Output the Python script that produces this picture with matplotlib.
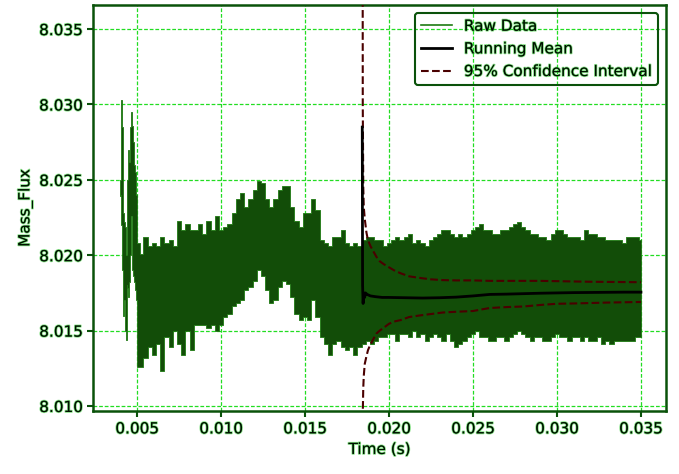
import matplotlib
matplotlib.use('Agg')
import matplotlib.pyplot as plt
import matplotlib.patheffects as pe
from matplotlib.lines import Line2D
from matplotlib.ticker import FormatStrFormatter
import numpy as np

# ---------------- data ----------------
early_time = [0.00400, 0.00405, 0.00410, 0.00415, 0.00420, 0.00425, 0.00430,
              0.00435, 0.00440, 0.00445, 0.00450, 0.00455, 0.00460, 0.00465,
              0.00470, 0.00475, 0.00480, 0.00485, 0.00490, 0.00495, 0.00500,
              0.00505]
early_high = [8.0250, 8.0262, 8.0303, 8.0285, 8.0228, 8.0222, 8.0219,
              8.0200, 8.0224, 8.0250, 8.0270, 8.0262, 8.0285, 8.0295,
              8.0290, 8.0286, 8.0275, 8.0260, 8.0255, 8.0240, 8.0214,
              8.0208]
early_low = [8.0239, 8.0240, 8.0220, 8.0190, 8.0160, 8.0170, 8.0150,
             8.0144, 8.0180, 8.0178, 8.0172, 8.0182, 8.0200, 8.0226,
             8.0210, 8.0190, 8.0186, 8.0182, 8.0177, 8.0170, 8.0154,
             8.0126]

# regular part: samples every 0.00025 s starting at 0.00525 s
reg_start = 0.00525
reg_step = 0.00025
reg_high = [8.0201, 8.0212, 8.0206, 8.0208, 8.0206, 8.0212, 8.0208, 8.0210,
            8.0206, 8.0223, 8.0217, 8.0221, 8.0217, 8.0217, 8.0221, 8.0214,
            8.0223, 8.0217, 8.0226, 8.0217, 8.0219, 8.0221, 8.0228, 8.0237,
            8.0241, 8.0232, 8.0237, 8.0243, 8.0249, 8.0248, 8.0237, 8.0232,
            8.0237, 8.0243, 8.0246, 8.0246, 8.0232, 8.0223, 8.0219, 8.0228,
            8.0228, 8.0237, 8.0230, 8.0210, 8.0208, 8.0206, 8.0212, 8.0212,
            8.0217, 8.0208, 8.0206, 8.0208, 8.0206, 8.0210, 8.0212, 8.0212,
            8.0210, 8.0210, 8.0206, 8.0208, 8.0210, 8.0212, 8.0210, 8.0212,
            8.0214, 8.0208, 8.0210, 8.0208, 8.0206, 8.0210, 8.0212, 8.0214,
            8.0217, 8.0217, 8.0214, 8.0212, 8.0214, 8.0212, 8.0214, 8.0217,
            8.0219, 8.0221, 8.0217, 8.0217, 8.0214, 8.0214, 8.0217, 8.0217,
            8.0219, 8.0221, 8.0222, 8.0219, 8.0217, 8.0214, 8.0214, 8.0212,
            8.0212, 8.0210, 8.0214, 8.0217, 8.0217, 8.0214, 8.0212, 8.0212,
            8.0212, 8.0210, 8.0217, 8.0214, 8.0214, 8.0212, 8.0212, 8.0210,
            8.0210, 8.0210, 8.0210, 8.0208, 8.0212, 8.0212, 8.0212, 8.0210]
reg_low = [8.0126, 8.0132, 8.0139, 8.0134, 8.0141, 8.0123, 8.0146, 8.0139,
           8.0150, 8.0141, 8.0134, 8.0150, 8.0137, 8.0154, 8.0154, 8.0154,
           8.0152, 8.0154, 8.0150, 8.0154, 8.0159, 8.0161, 8.0166, 8.0168,
           8.0170, 8.0177, 8.0179, 8.0183, 8.0190, 8.0186, 8.0177, 8.0168,
           8.0170, 8.0179, 8.0183, 8.0181, 8.0172, 8.0161, 8.0157, 8.0159,
           8.0157, 8.0170, 8.0159, 8.0146, 8.0141, 8.0134, 8.0141, 8.0143,
           8.0139, 8.0137, 8.0139, 8.0134, 8.0139, 8.0141, 8.0143, 8.0141,
           8.0143, 8.0146, 8.0146, 8.0148, 8.0148, 8.0143, 8.0148, 8.0148,
           8.0146, 8.0150, 8.0146, 8.0148, 8.0143, 8.0146, 8.0148, 8.0146,
           8.0143, 8.0148, 8.0143, 8.0139, 8.0141, 8.0143, 8.0146, 8.0148,
           8.0150, 8.0146, 8.0146, 8.0143, 8.0143, 8.0146, 8.0146, 8.0143,
           8.0146, 8.0148, 8.0150, 8.0148, 8.0146, 8.0143, 8.0146, 8.0146,
           8.0143, 8.0143, 8.0146, 8.0148, 8.0146, 8.0146, 8.0143, 8.0146,
           8.0146, 8.0143, 8.0146, 8.0143, 8.0143, 8.0146, 8.0141, 8.0143,
           8.0141, 8.0143, 8.0143, 8.0143, 8.0143, 8.0143, 8.0146, 8.0146]

mean_time = [0.01841, 0.01843, 0.01846, 0.01850, 0.01855, 0.01860, 0.01870,
             0.01890, 0.01920, 0.01960, 0.0200, 0.0210, 0.0220, 0.0230,
             0.0240, 0.0250, 0.0260, 0.0270, 0.0280, 0.0290, 0.0300, 0.0310,
             0.0320, 0.0330, 0.0340, 0.0350]
mean_vals = [8.0285, 8.0180, 8.0168, 8.0175, 8.0172, 8.0175, 8.0174,
             8.0173, 8.01725, 8.0172, 8.0172, 8.01718, 8.01716, 8.01718,
             8.01722, 8.0173, 8.0174, 8.01742, 8.01745, 8.01748, 8.0175,
             8.01752, 8.01753, 8.01754, 8.01755, 8.01755]

ci_time = [0.01841, 0.01844, 0.01847, 0.01850, 0.01856, 0.01866, 0.01875,
           0.01890, 0.01905, 0.01925, 0.01945, 0.01970, 0.0200, 0.0203,
           0.0207, 0.0212, 0.0218, 0.0225, 0.0232, 0.0240, 0.0250, 0.0260,
           0.0270, 0.0280, 0.0290, 0.0300, 0.0310, 0.0320, 0.0330, 0.0340,
           0.0350]
ci_upper = [8.0800, 8.0300, 8.0245, 8.0232, 8.0224, 8.0215, 8.0210,
            8.0206, 8.0203, 8.0199, 8.0196, 8.0194, 8.0192, 8.0190,
            8.0188, 8.0186, 8.0185, 8.0184, 8.01835, 8.01833, 8.01833,
            8.0183, 8.0183, 8.0183, 8.0183, 8.01828, 8.01826, 8.01824,
            8.01823, 8.01822, 8.01821]
ci_lower = [7.9500, 8.0095, 8.0112, 8.0120, 8.0128, 8.0133, 8.0137,
            8.0141, 8.0144, 8.0148, 8.0150, 8.0152, 8.01545, 8.0156,
            8.0157, 8.0159, 8.0160, 8.0161, 8.0162, 8.01625, 8.0163,
            8.0165, 8.01656, 8.0166, 8.0167, 8.01678, 8.0168, 8.01683,
            8.01686, 8.01688, 8.0169]

x_ticks = [0.005, 0.010, 0.015, 0.020, 0.025, 0.030, 0.035]
y_ticks = [8.010, 8.015, 8.020, 8.025, 8.030, 8.035]

# ---------------- assemble raw series ----------------
reg_time = [round(reg_start + reg_step * i, 6) for i in range(len(reg_high))]
raw_time = np.array(early_time + reg_time)
raw_high = np.array(early_high + reg_high)
raw_low = np.array(early_low + reg_low)

# ---------------- style ----------------
DARK_GREEN = '#0a520a'
TEXT_COLOR = '#000f00'
GLOW = [pe.withStroke(linewidth=1.3, foreground=(0.2, 0.8, 0.2, 0.55))]
RAW_FILL = '#124d08'
RAW_EDGE = '#1e7a12'
CI_COLOR = '#4a0000'

fig, ax = plt.subplots(figsize=(6.79, 4.74), dpi=100)
fig.subplots_adjust(left=0.137, right=0.981, top=0.9895, bottom=0.133)

ax.fill_between(raw_time, raw_low, raw_high, step='mid', facecolor=RAW_FILL,
                edgecolor=RAW_EDGE, linewidth=0.6, zorder=2)
ci_line, = ax.plot(ci_time, ci_upper, color=CI_COLOR, ls='--', lw=1.5,
                   zorder=3, label='95% Confidence Interval')
ax.plot(ci_time, ci_lower, color=CI_COLOR, ls='--', lw=1.5, zorder=3)
mean_line, = ax.plot(mean_time, mean_vals, color='black', lw=2.0, zorder=4,
                     label='Running Mean')

ax.set_xlim(0.00238, 0.0365)
ax.set_ylim(8.00967, 8.0366)
ax.set_xticks(x_ticks)
ax.set_yticks(y_ticks)
ax.xaxis.set_major_formatter(FormatStrFormatter('%.3f'))
ax.yaxis.set_major_formatter(FormatStrFormatter('%.3f'))

ax.grid(True, color='#22dd22', ls=(0, (3, 1.5)), lw=0.9)

for s in ax.spines.values():
    s.set_color(DARK_GREEN)
    s.set_linewidth(1.8)
ax.tick_params(color=DARK_GREEN, labelcolor=TEXT_COLOR, length=4, width=1.5,
               labelsize=11)
for t in ax.xaxis.get_major_ticks() + ax.yaxis.get_major_ticks():
    t.label1.set_path_effects(GLOW)

xl = ax.set_xlabel('Time (s)', fontsize=11, color=TEXT_COLOR)
yl = ax.set_ylabel('Mass_Flux', fontsize=11, color=TEXT_COLOR)
xl.set_path_effects(GLOW)
yl.set_path_effects(GLOW)

raw_handle = Line2D([], [], color=RAW_EDGE, lw=1.2, label='Raw Data')
leg = ax.legend(handles=[raw_handle, mean_line, ci_line], loc='upper right',
                fontsize=11, facecolor='none', edgecolor=DARK_GREEN,
                framealpha=1, fancybox=True)
leg.get_frame().set_linewidth(1.5)
for txt in leg.get_texts():
    txt.set_color(TEXT_COLOR)
    txt.set_path_effects(GLOW)

fig.savefig('out.png', dpi=100)
